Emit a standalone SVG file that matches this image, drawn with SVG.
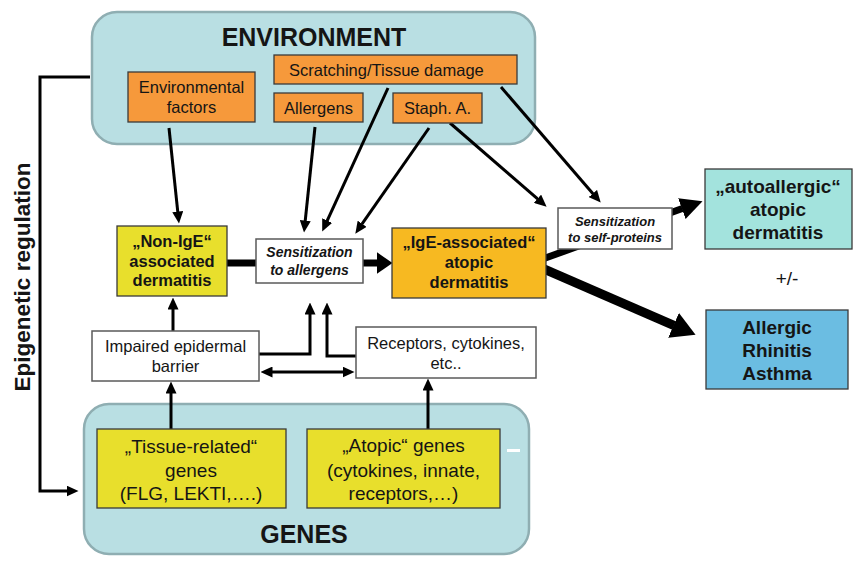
<svg xmlns="http://www.w3.org/2000/svg" width="866" height="562" viewBox="0 0 866 562">
<defs>
<style>
text{font-family:"Liberation Sans",Arial,sans-serif;fill:#151515}
.grp{fill:#b9dfe3;stroke:#8faeb2;stroke-width:2.5}
.org{fill:#f6993b;stroke:#3a3a3a;stroke-width:1.3}
.yel{fill:#e8df2c;stroke:#3a3a3a;stroke-width:1.3}
.wht{fill:#ffffff;stroke:#5a5a5a;stroke-width:1.5}
.t16{font-size:16.5px}
.b16{font-size:16.5px;font-weight:bold}
.b19{font-size:19px;font-weight:bold}
.r19{font-size:19px}
.it{font-weight:bold;font-style:italic}
.ln{fill:none;stroke:#000;stroke-width:3}
.thk{fill:none;stroke:#000;stroke-width:7}
</style>
<marker id="ah" viewBox="0 0 12 11" refX="0.5" refY="5.5" markerWidth="12" markerHeight="11" markerUnits="userSpaceOnUse" orient="auto-start-reverse"><path d="M0,0 L12,5.5 L0,11 z" fill="#000"/></marker>
<marker id="ahM" viewBox="0 0 16 22" refX="0.5" refY="11" markerWidth="16" markerHeight="22" markerUnits="userSpaceOnUse" orient="auto"><path d="M0,0 L16,11 L0,22 z" fill="#000"/></marker>
<marker id="ahL" viewBox="0 0 22 22" refX="0.5" refY="11" markerWidth="22" markerHeight="22" markerUnits="userSpaceOnUse" orient="auto"><path d="M0,0 L22,11 L0,22 z" fill="#000"/></marker>
<marker id="ahX" viewBox="0 0 24 27" refX="0.5" refY="13.5" markerWidth="24" markerHeight="27" markerUnits="userSpaceOnUse" orient="auto"><path d="M0,0 L24,13.5 L0,27 z" fill="#000"/></marker>
</defs>
<rect width="866" height="562" fill="#ffffff"/>

<g id="environment">
<rect class="grp" x="92" y="12" width="443" height="132" rx="25"/>
<text x="314" y="46" text-anchor="middle" style="font-size:25px;font-weight:bold">ENVIRONMENT</text>
</g>
<g id="genes">
<rect class="grp" x="84" y="404" width="445" height="150" rx="25"/>
<text x="304" y="543" text-anchor="middle" style="font-size:25px;font-weight:bold">GENES</text>
<rect x="507" y="449" width="13" height="3" fill="#ffffff"/>
</g>

<g id="connectors">
<path class="ln" d="M90,77 H40 V491 H67" marker-end="url(#ah)"/>
<line class="ln" x1="169" y1="128" x2="177.8" y2="212.1" marker-end="url(#ah)"/>
<line class="ln" x1="315" y1="127" x2="305.2" y2="221.1" marker-end="url(#ah)"/>
<line class="ln" x1="388" y1="88" x2="327" y2="221.1" marker-end="url(#ah)"/>
<line class="ln" x1="429" y1="128" x2="361.9" y2="224.2" marker-end="url(#ah)"/>
<line class="ln" x1="450" y1="123" x2="537.9" y2="199.1" marker-end="url(#ah)"/>
<line class="ln" x1="501" y1="87" x2="593.2" y2="193.9" marker-end="url(#ah)"/>
<line class="ln" x1="173" y1="331" x2="173" y2="309" marker-end="url(#ah)"/>
<path class="ln" d="M259,354 H310 V314" marker-end="url(#ah)"/>
<path class="ln" d="M356,356 H327 V314" marker-end="url(#ah)"/>
<line class="ln" x1="272" y1="372" x2="343" y2="372" marker-start="url(#ah)" marker-end="url(#ah)"/>
<line class="ln" x1="171" y1="429" x2="171" y2="393" marker-end="url(#ah)"/>
<line class="ln" x1="428" y1="429" x2="428" y2="390" marker-end="url(#ah)"/>
<line class="thk" x1="227" y1="263" x2="256" y2="263"/>
<line class="thk" x1="363" y1="263" x2="377" y2="263" marker-end="url(#ahM)"/>
<line class="thk" x1="544" y1="258.5" x2="682.3" y2="208.5" marker-end="url(#ahL)"/>
<line class="thk" x1="544" y1="269" x2="674" y2="325.5" style="stroke-width:9" marker-end="url(#ahX)"/>
</g>

<g id="env-factors">
<rect class="org" x="128" y="72" width="127" height="50"/>
<text class="t16" x="191.5" y="93" text-anchor="middle">Environmental</text>
<text class="t16" x="191.5" y="113" text-anchor="middle">factors</text>
</g>
<g id="scratching">
<rect class="org" x="274" y="55" width="243" height="29"/>
<text class="t16" x="289" y="76">Scratching/Tissue damage</text>
</g>
<g id="allergens">
<rect class="org" x="274" y="93" width="89" height="29"/>
<text class="t16" x="318.5" y="114" text-anchor="middle">Allergens</text>
</g>
<g id="staph">
<rect class="org" x="393" y="93" width="89" height="30"/>
<text class="t16" x="437.5" y="114" text-anchor="middle">Staph. A.</text>
</g>

<g id="non-ige">
<rect class="yel" x="117" y="226" width="110" height="70"/>
<text class="b16" x="172" y="247" text-anchor="middle">„Non-IgE“</text>
<text class="b16" x="172" y="267" text-anchor="middle">associated</text>
<text class="b16" x="172" y="286" text-anchor="middle">dermatitis</text>
</g>
<g id="sens-allergens">
<rect class="wht" x="256" y="239" width="107" height="44"/>
<text class="it" x="309.5" y="257" text-anchor="middle" style="font-size:14px">Sensitization</text>
<text class="it" x="309.5" y="275" text-anchor="middle" style="font-size:14px">to allergens</text>
</g>
<g id="ige">
<rect x="392" y="228" width="154" height="70" fill="#f7b921" stroke="#3a3a3a" stroke-width="1.3"/>
<text class="b16" x="469" y="248" text-anchor="middle">„IgE-associated“</text>
<text class="b16" x="469" y="268" text-anchor="middle">atopic</text>
<text class="b16" x="469" y="288" text-anchor="middle">dermatitis</text>
</g>
<g id="sens-self">
<rect class="wht" x="558" y="208" width="114" height="41"/>
<text class="it" x="615" y="226" text-anchor="middle" style="font-size:13px">Sensitization</text>
<text class="it" x="615" y="242" text-anchor="middle" style="font-size:13px">to self-proteins</text>
</g>
<g id="autoallergic">
<rect x="705" y="169" width="147" height="80" fill="#a3e3dd" stroke="#3a3a3a" stroke-width="1.3"/>
<text class="b19" x="778" y="193" text-anchor="middle">„autoallergic“</text>
<text class="b19" x="778" y="216" text-anchor="middle">atopic</text>
<text class="b19" x="778" y="238.5" text-anchor="middle">dermatitis</text>
</g>
<g id="plusminus">
<text x="787" y="285" text-anchor="middle" style="font-size:19px">+/-</text>
</g>
<g id="allergic">
<rect x="706" y="310" width="142" height="79" fill="#6bbde2" stroke="#3a3a3a" stroke-width="1.3"/>
<text class="b19" x="777" y="334" text-anchor="middle">Allergic</text>
<text class="b19" x="777" y="357" text-anchor="middle">Rhinitis</text>
<text class="b19" x="777" y="380" text-anchor="middle">Asthma</text>
</g>
<g id="impaired">
<rect class="wht" x="92" y="331" width="167" height="50"/>
<text class="t16" x="175.5" y="352" text-anchor="middle">Impaired epidermal</text>
<text class="t16" x="175.5" y="372" text-anchor="middle">barrier</text>
</g>
<g id="receptors">
<rect class="wht" x="356" y="327" width="180" height="51"/>
<text class="t16" x="446" y="349" text-anchor="middle">Receptors, cytokines,</text>
<text class="t16" x="446" y="369" text-anchor="middle">etc..</text>
</g>
<g id="tissue-genes">
<rect class="yel" x="97" y="429" width="189" height="79"/>
<text class="r19" x="191" y="453" text-anchor="middle">„Tissue-related“</text>
<text class="r19" x="191" y="477" text-anchor="middle">genes</text>
<text class="r19" x="191" y="500" text-anchor="middle">(FLG, LEKTI,….)</text>
</g>
<g id="atopic-genes">
<rect class="yel" x="307" y="429" width="193" height="79"/>
<text class="r19" x="403.5" y="452" text-anchor="middle">„Atopic“ genes</text>
<text class="r19" x="403.5" y="477" text-anchor="middle">(cytokines, innate,</text>
<text class="r19" x="403.5" y="500" text-anchor="middle">receptors,…)</text>
</g>
<g id="epigenetic-label">
<text x="0" y="0" text-anchor="middle" transform="translate(29.5,277) rotate(-90)" style="font-size:22.5px;font-weight:bold">Epigenetic regulation</text>
</g>
</svg>
